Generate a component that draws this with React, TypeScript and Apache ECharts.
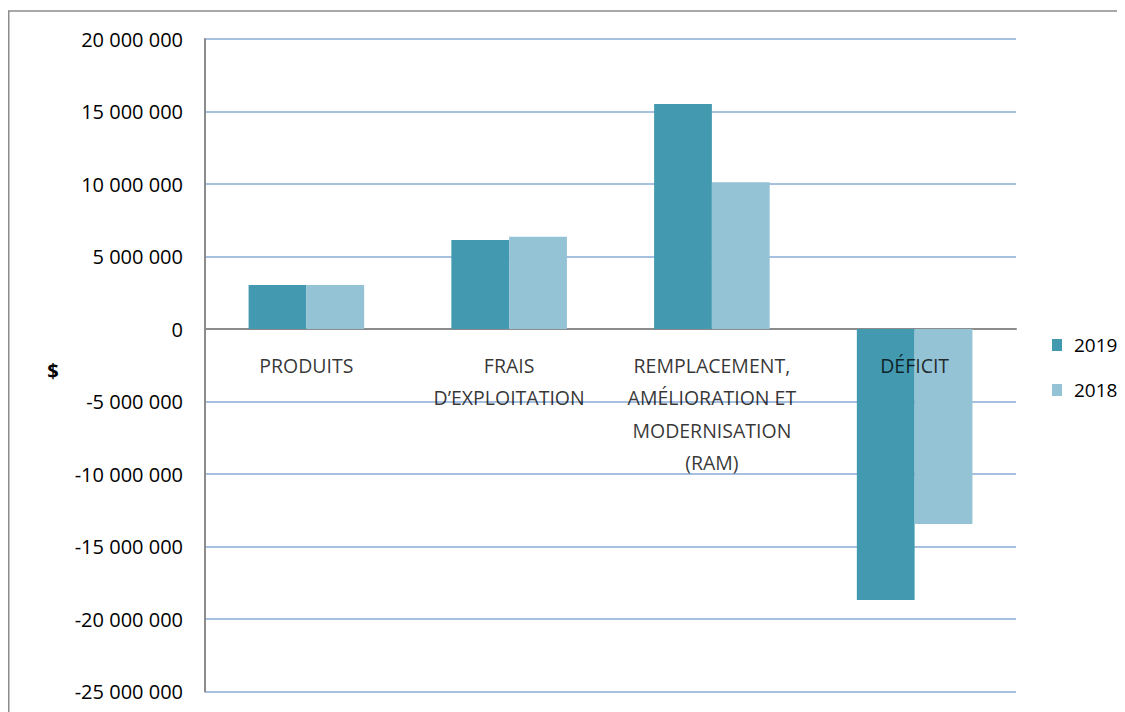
import React, { useEffect, useRef } from "react";
import * as echarts from "echarts";

const categories = [
  "PRODUITS",
  "FRAIS\nD’EXPLOITATION",
  "REMPLACEMENT,\nAMÉLIORATION ET\nMODERNISATION\n(RAM)",
  "DÉFICIT",
];
const values2019 = [3030000, 6140000, 15520000, -18690000];
const values2018 = [3030000, 6370000, 10120000, -13450000];
const seriesNames = ["2019", "2018"];
const yMin = -25000000;
const yMax = 20000000;
const yInterval = 5000000;

const FONT = "'Open Sans', 'Noto Sans', sans-serif";

function fmt(v: number): string {
  const neg = v < 0;
  const s = Math.abs(v).toString().replace(/\B(?=(\d{3})+(?!\d))/g, " ");
  return (neg ? "-" : "") + s;
}

export default function App() {
  const ref = useRef<HTMLDivElement>(null);
  useEffect(() => {
    if (!ref.current) return;
    const chart = echarts.init(ref.current, null, { renderer: "svg" });
    chart.setOption({
      animation: false,
      backgroundColor: "#ffffff",
      textStyle: { fontFamily: FONT },
      grid: {
        left: 197,
        right: 109,
        top: 31,
        bottom: 20.5,
        containLabel: false,
        outerBoundsMode: "none",
      },
      legend: {
        orient: "vertical",
        left: 1044,
        top: 325,
        padding: 0,
        itemWidth: 10,
        itemHeight: 12,
        itemGap: 21,
        itemStyle: { borderWidth: 0 },
        icon: "rect",
        textStyle: { fontFamily: FONT, fontSize: 19, color: "#000", lineHeight: 24, padding: [0, 0, 0, 7] },
        data: seriesNames,
      },
      xAxis: {
        type: "category",
        data: categories,
        axisLine: { onZero: true, lineStyle: { color: "#8c8c8c", width: 2 } },
        axisTick: { show: false },
        axisLabel: { show: false },
        splitLine: { show: false },
      },
      yAxis: {
        type: "value",
        min: yMin,
        max: yMax,
        interval: yInterval,
        axisLine: { show: true, lineStyle: { color: "#8c8c8c", width: 2 } },
        axisTick: { show: false },
        axisLabel: {
          color: "#000",
          fontFamily: FONT,
          fontSize: 20,
          margin: 22,
          formatter: (v: number) => fmt(v),
        },
        splitLine: { show: true, lineStyle: { color: "#a8c0e0", width: 2 } },
      },
      graphic: [
        {
          type: "rect",
          shape: { x: 0.75, y: 3, width: 1300, height: 900 },
          style: { fill: "none", stroke: "#8c8c8c", lineWidth: 1.5 },
          silent: true,
        },
        {
          type: "text",
          x: 45,
          y: 362,
          style: { text: "$", fontFamily: FONT, fontSize: 20, fontWeight: "bold", fill: "#000", textAlign: "center", textVerticalAlign: "middle" },
          silent: true,
        },
      ],
      series: [
        {
          name: seriesNames[0],
          type: "bar",
          data: values2019,
          barGap: "0%",
          barCategoryGap: "43%",
          itemStyle: { color: "#4399b0" },
        },
        {
          name: seriesNames[1],
          type: "bar",
          data: values2018,
          barGap: "0%",
          barCategoryGap: "43%",
          itemStyle: { color: "#93c3d5" },
        },
        {
          name: "labels",
          type: "scatter",
          data: categories.map((c, i) => [i, 0]),
          symbolSize: 0,
          silent: true,
          z: 10,
          label: {
            show: true,
            position: "bottom",
            distance: 20,
            color: "#000",
            fontFamily: FONT,
            fontSize: 19.5,
            lineHeight: 32.5,
            align: "center",
            formatter: (p: any) => categories[p.dataIndex],
          },
        },
      ],
    });
    return () => chart.dispose();
  }, []);
  return <div ref={ref} style={{ width: 1117, height: 704 }} />;
}
